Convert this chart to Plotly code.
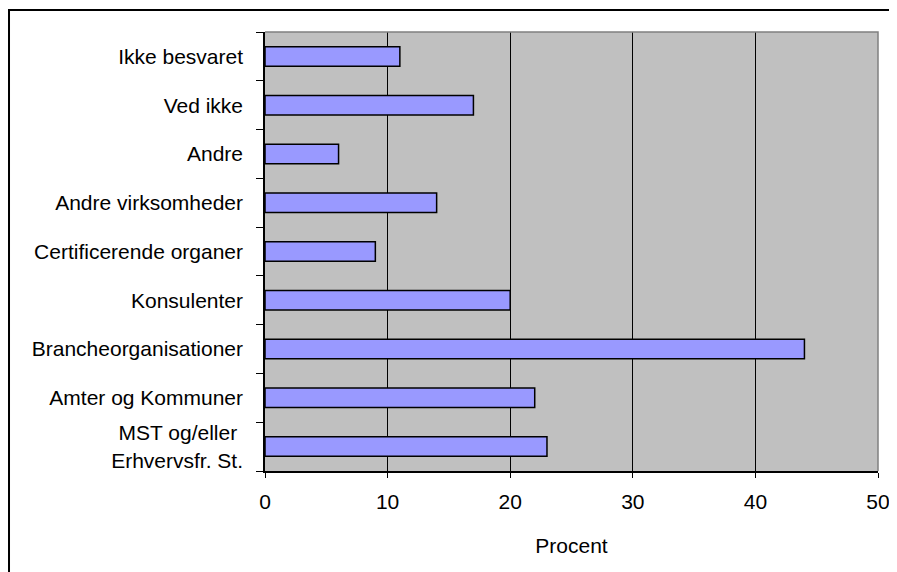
import plotly.graph_objects as go

categories = [
    "MST og/eller\u00a0<br>Erhvervsfr. St.",
    "Amter og Kommuner",
    "Brancheorganisationer",
    "Konsulenter",
    "Certificerende organer",
    "Andre virksomheder",
    "Andre",
    "Ved ikke",
    "Ikke besvaret",
]
values = [23, 22, 44, 20, 9, 14, 6, 17, 11]
x_ticks = [0, 10, 20, 30, 40, 50]
x_title = "Procent"

FONT = "Liberation Sans, Arial, sans-serif"
FS = 21

fig = go.Figure()
fig.add_trace(go.Bar(
    x=values,
    y=categories,
    orientation="h",
    width=0.4,
    marker=dict(color="#9999FF", line=dict(color="black", width=1.5)),
    hoverinfo="x+y",
))

# the page body adds an 8px offset, so the figure is 8px smaller
fig.update_layout(
    width=889,
    height=564,
    margin=dict(l=257, r=19, t=24, b=101, autoexpand=False),
    paper_bgcolor="white",
    plot_bgcolor="#C0C0C0",
    showlegend=False,
    font=dict(family=FONT, size=FS, color="black"),
)

fig.update_xaxes(
    range=[0, 50],
    tickvals=x_ticks,
    showgrid=True,
    gridcolor="black",
    gridwidth=1,
    showline=True,
    linecolor="black",
    linewidth=1.5,
    ticks="outside",
    ticklen=5,
    tickcolor="black",
    ticklabelstandoff=6,
    tickfont=dict(family=FONT, size=FS),
    zeroline=False,
    automargin=False,
    title=dict(text=x_title, font=dict(family=FONT, size=FS), standoff=26),
)

fig.update_yaxes(
    type="category",
    categoryorder="array",
    categoryarray=categories,
    range=[-0.5, len(categories) - 0.5],
    tickson="boundaries",
    ticks="outside",
    ticklen=7,
    tickcolor="black",
    showline=True,
    linecolor="black",
    linewidth=1.5,
    showgrid=False,
    automargin=False,
    ticklabelstandoff=16,
    tickfont=dict(family=FONT, size=FS),
)

# plot-area border (top and right), gray
fig.add_shape(type="path", xref="paper", yref="paper",
              path="M 0,1 L 1,1 L 1,0", line=dict(color="#808080", width=1.5),
              layer="above")
# outer chart frame (partially cropped at right and bottom)
fig.add_shape(type="rect", xref="paper", yref="paper",
              x0=-0.4176, x1=1.05, y0=-0.6, y1=1.05,
              line=dict(color="black", width=2), layer="below")

fig.write_html("out.html")
